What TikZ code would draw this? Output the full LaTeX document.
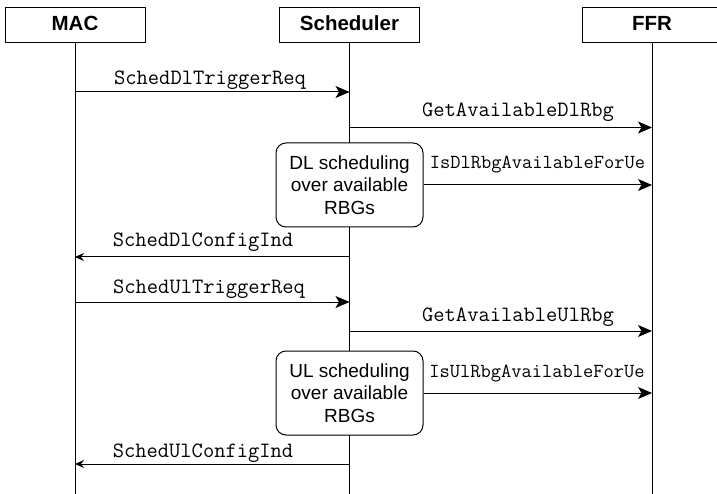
\documentclass[tikz,border=0pt]{standalone}
\usepackage{fontspec}
\setmainfont{Liberation Sans}
\usetikzlibrary{arrows.meta}

\tikzset{
	actor/.style={draw, line width=1pt, fill=white, minimum width=140pt, minimum height=35pt, inner sep=0pt, text depth=5pt, font=\fontsize{20.5}{24}\selectfont\bfseries},
	process/.style={draw, line width=1pt, fill=white, rounded corners=10pt, minimum width=147pt, minimum height=84pt, inner sep=0pt, align=center, font=\fontsize{19}{22.5}\selectfont},
	life/.style={line width=1pt},
	call/.style={line width=1pt, -{Stealth[length=14pt,width=12pt,inset=3.5pt]}},
	reply/.style={line width=1pt, -{Stealth[length=9pt,width=8pt,inset=3pt]}},
	msglabel/.style={anchor=base, inner sep=0pt, font=\fontsize{21.9}{24}\selectfont\ttfamily},
	smalllabel/.style={msglabel, font=\fontsize{19.9}{22}\selectfont\ttfamily}
}

\begin{document}
\begin{tikzpicture}[x=1pt, y=-1pt]
		\useasboundingbox (0,0) rectangle (717,494);
		%actors
			\node[actor] (mac) at (75,25.5) {MAC};
			\node[actor] (sched) at (349.5,25.5) {Scheduler};
			\node[actor] (ffr) at (652,25.5) {FFR};
		%lifelines
			\coordinate (bottom) at (0,494);
			\draw[life] (mac) -- (mac |- bottom);
			\draw[life] (sched) -- (sched |- bottom);
			\draw[life] (ffr) -- (ffr |- bottom);
		%message levels
			\coordinate (m1) at (0,92);
			\coordinate (m2) at (0,127.5);
			\coordinate (m4) at (0,257);
			\coordinate (m5) at (0,302);
			\coordinate (m6) at (0,331);
			\coordinate (m8) at (0,464);
		%DL
			\draw[call] (mac |- m1) -- (sched |- m1);
			\node[msglabel] (l1) at (210,85) {SchedDlTriggerReq};
			\draw[call] (sched |- m2) -- (ffr |- m2);
			\node[msglabel] (l2) at (518,117) {GetAvailableDlRbg};
			\node[process] (dl) at (349.5,185) {DL scheduling\\over available\\RBGs};
			\draw[call] (dl.east) -- (dl.east -| ffr);
			\node[smalllabel] (l3) at (537.5,169) {IsDlRbgAvailableForUe};
			\draw[reply] (sched |- m4) -- (mac |- m4);
			\node[msglabel] (l4) at (203,247) {SchedDlConfigInd};
		%UL
			\draw[call] (mac |- m5) -- (sched |- m5);
			\node[msglabel] (l5) at (209,293) {SchedUlTriggerReq};
			\draw[call] (sched |- m6) -- (ffr |- m6);
			\node[msglabel] (l6) at (518,321) {GetAvailableUlRbg};
			\node[process] (ul) at (349.5,393) {UL scheduling\\over available\\RBGs};
			\draw[call] (ul.east) -- (ul.east -| ffr);
			\node[smalllabel] (l7) at (537,377) {IsUlRbgAvailableForUe};
			\draw[reply] (sched |- m8) -- (mac |- m8);
			\node[msglabel] (l8) at (203,457) {SchedUlConfigInd};
	\end{tikzpicture}
\end{document}
